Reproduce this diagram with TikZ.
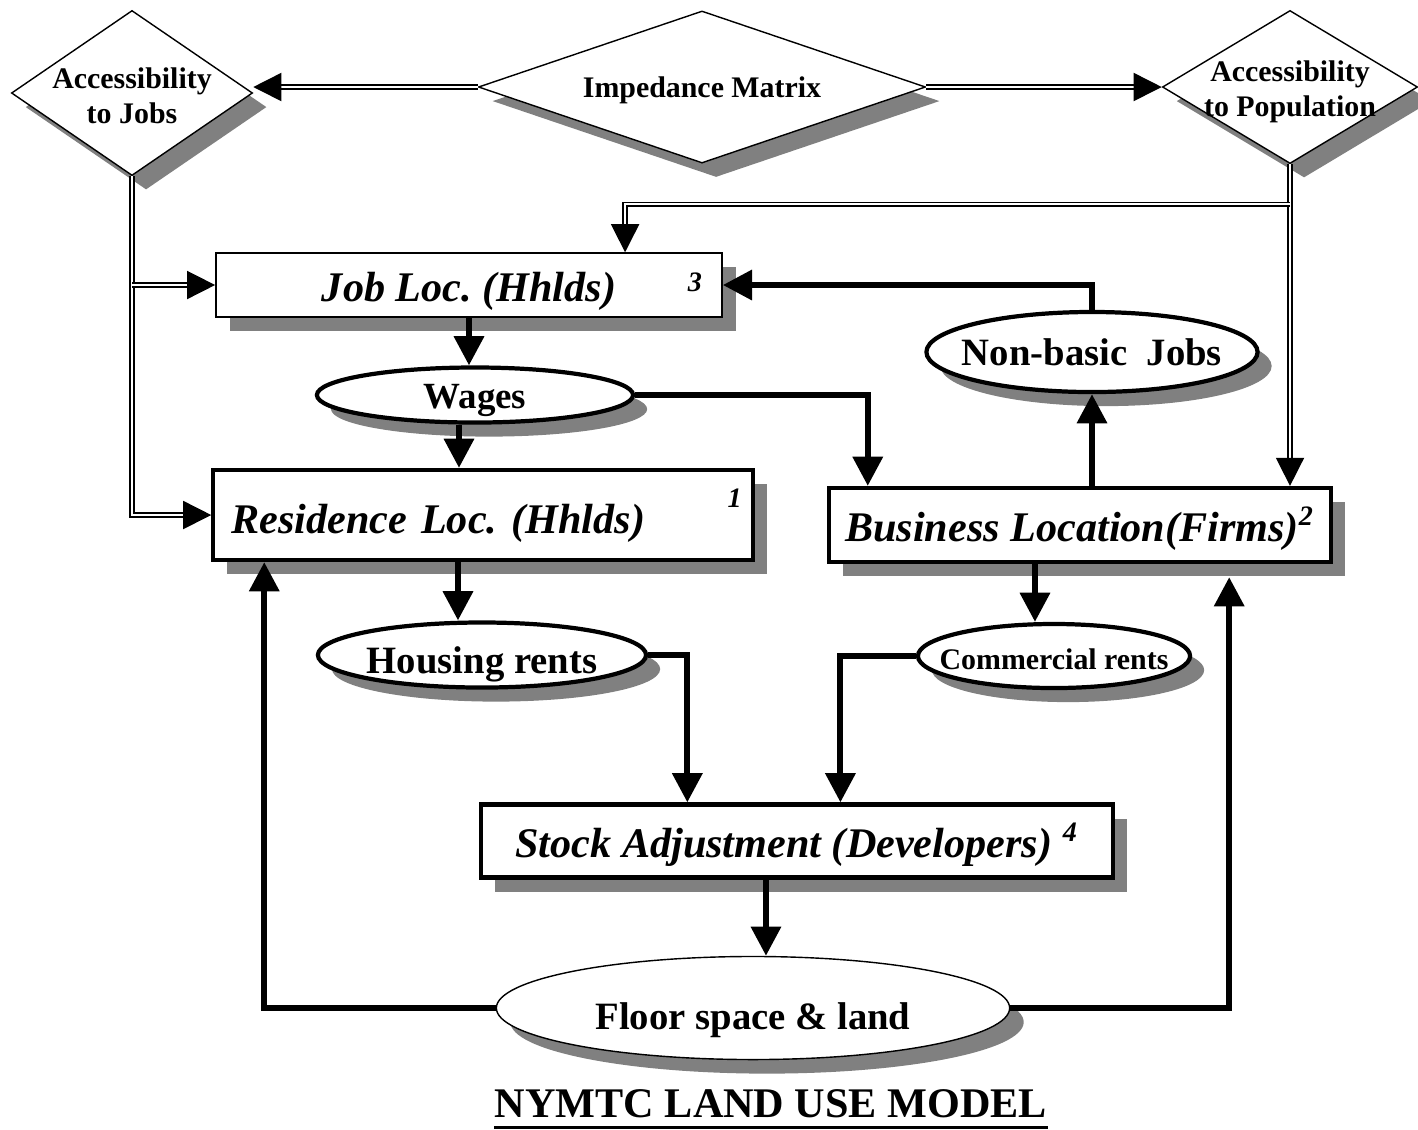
\documentclass[tikz,border=0pt]{standalone}
\usepackage{fontspec}
\setmainfont{Liberation Serif}
\usetikzlibrary{shapes.geometric,arrows.meta,shadows}
\definecolor{shadowgray}{RGB}{128,128,128}
\frenchspacing
\tikzset{
  boxshadow/.style={general shadow={fill=shadowgray, shadow xshift=4pt, shadow yshift=-4pt}},
  dia/.style={diamond, draw, thin, fill=white, inner sep=0pt, boxshadow},
  diatext/.style={align=center, font=\fontsize{8.5}{10}\selectfont\bfseries, inner sep=0pt},
  box/.style={rectangle, draw, fill=white, inner sep=0pt, boxshadow, text height=9.2pt, text depth=0pt, font=\fontsize{12}{14}\selectfont\bfseries\itshape},
  oval/.style={ellipse, draw, line width=1.2pt, fill=white, inner sep=0pt, boxshadow},
  ovaltext/.style={inner sep=0pt},
  supnum/.style={font=\fontsize{8}{9}\selectfont\bfseries\itshape, inner sep=0pt},
  arr/.style={line width=1.7pt, -{Triangle[length=8.3pt,width=8.3pt]}},
  dbl/.style={double, double distance=0.6pt, line width=0.45pt},
  dblarr/.style={dbl, -{Triangle[length=8pt,width=8pt]}},
}
\begin{document}
\begin{tikzpicture}[x=0.01cm, y=-0.01cm]
  \path[use as bounding box, fill=white] (0,0) rectangle (1418,1129);

  % diamonds
  \node[dia, minimum width=2.41cm, minimum height=1.65cm,
    label={[diatext, yshift=-0.03cm]center:Accessibility\\to Jobs}] (accjobs) at (132,93) {};
  \node[dia, minimum width=4.47cm, minimum height=1.52cm,
    label={[diatext, yshift=-0.03cm]center:Impedance Matrix}] (impmat) at (702,87) {};
  \node[dia, minimum width=2.55cm, minimum height=1.53cm,
    label={[diatext, yshift=-0.05cm]center:Accessibility\\to Population}] (accpop) at (1290,87) {};

  % boxes
  \node[box, thin, minimum width=5.06cm, minimum height=0.64cm] (jobloc) at (469,285) {Job Loc. (Hhlds)};
  \node[supnum] (jobnum) at ([xshift=-0.28cm,yshift=-0.30cm]jobloc.north east) {3};
  \node[box, line width=1.2pt, minimum height=0.9cm, text width=5.03cm, text height=10.5pt, inner xsep=0.18cm, align=left] (resloc) at (483,515) {\mbox{Residence Loc. (Hhlds)}};
  \node[supnum] (resnum) at ([xshift=-0.2cm,yshift=-0.3cm]resloc.north east) {1};
  \node[box, line width=1.2pt, minimum width=5.02cm, minimum height=0.74cm] (busloc) at (1080,525) {Business Location(Firms)\textsuperscript{2}};
  \node[box, line width=1.2pt, minimum width=6.31cm, minimum height=0.73cm] (stockadj) at (797,841) {Stock Adjustment (Developers) \textsuperscript{4}};

  % ellipses
  \node[oval, minimum width=3.16cm, minimum height=0.55cm,
    label={[ovaltext, yshift=-0.05cm, font=\fontsize{10.5}{12}\selectfont\bfseries]center:Wages}] (wages) at (475,395) {};
  \node[oval, minimum width=3.31cm, minimum height=0.80cm,
    label={[ovaltext, font=\fontsize{11}{13}\selectfont\bfseries]center:Non-basic\ \ Jobs}] (nonbasic) at (1092,352) {};
  \node[oval, minimum width=3.28cm, minimum height=0.65cm,
    label={[ovaltext, yshift=-0.09cm, font=\fontsize{11}{13}\selectfont\bfseries]center:Housing rents}] (houserent) at (482,655) {};
  \node[oval, minimum width=2.72cm, minimum height=0.64cm,
    label={[ovaltext, yshift=-0.03cm, font=\fontsize{8.5}{10}\selectfont\bfseries]center:Commercial rents}] (commrent) at (1054,656) {};
  \node[oval, thin, minimum width=5.13cm, minimum height=1.03cm,
    label={[ovaltext, yshift=-0.12cm, font=\fontsize{11}{13}\selectfont\bfseries]center:Floor space \& land}] (floor) at (753,1008) {};

  \node[font=\fontsize{12}{14}\selectfont\bfseries, inner sep=0pt] (title) at (771,1104) {NYMTC LAND USE MODEL};
  \draw[line width=0.9pt] ([yshift=-2.5pt]title.south west) -- ([yshift=-2.5pt]title.south east);

  % double lines
  \draw[dblarr] (impmat.west) -- (accjobs.east |- impmat.west);
  \draw[dblarr] (impmat.east) -- (accpop.west |- impmat.east);
  \draw[dblarr] (accjobs.south) |- (resloc.west);
  \draw[dblarr] (accjobs.south |- jobloc.west) -- (jobloc.west);
  \draw[dblarr] (accpop.south) -- (accpop.south |- busloc.north);
  \coordinate (popbranch) at ([yshift=-0.4cm]accpop.south);
  \draw[dblarr] (popbranch) -| ([xshift=1.56cm]jobloc.north);

  % thick arrows
  \draw[arr] (jobloc.south) -- (jobloc.south |- wages.north);
  \coordinate (wagesout) at ([xshift=-0.16cm]wages.south);
  \draw[arr] (wagesout) -- (wagesout |- resloc.north);
  \draw[arr] (wages.east) -| ([xshift=0.41cm]busloc.north west);
  \draw[arr] (nonbasic.south |- busloc.north) -- (nonbasic.south);
  \draw[arr] (nonbasic.north) |- (jobloc.east);
  \coordinate (resout) at ([xshift=-0.25cm]resloc.south);
  \draw[arr] (resout) -- (resout |- houserent.north);
  \coordinate (busout) at ([xshift=-0.45cm]busloc.south);
  \draw[arr] (busout) -- (busout |- commrent.north);
  \draw[arr] (houserent.east) -| ([xshift=2.08cm]stockadj.north west);
  \draw[arr] (commrent.west) -| ([xshift=3.61cm]stockadj.north west);
  \coordinate (stockout) at ([xshift=-0.31cm]stockadj.south);
  \draw[arr] (stockout) -- (stockout |- floor.north);
  \draw[arr] (floor.west) -| ([xshift=0.53cm]resloc.south west);
  \draw[arr, shorten >=0.13cm] (floor.east) -| ([xshift=-1.04cm]busloc.south east);
\end{tikzpicture}
\end{document}
